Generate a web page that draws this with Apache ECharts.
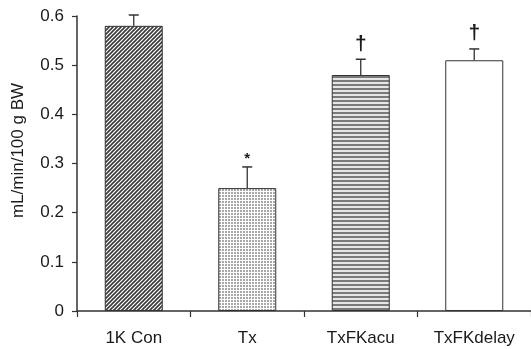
<!DOCTYPE html>
<html>
<head>
<meta charset="utf-8">
<script src="https://cdn.jsdelivr.net/npm/echarts@6/dist/echarts.min.js"></script>
<style>
html,body{margin:0;padding:0;background:#fff;}
#c{width:531px;height:349px;}
</style>
</head>
<body>
<div id="c"></div>
<script>
const categories = ['1K Con', 'Tx', 'TxFKacu', 'TxFKdelay'];
const means = [0.58, 0.25, 0.48, 0.51];
const errors = [0.022, 0.043, 0.032, 0.023];
const marks = ['', '*', '\u2020', '\u2020'];
const yMin = 0, yMax = 0.6, yStep = 0.1;
const yTitle = 'mL/min/100 g BW';

function makeTile(size, draw) {
  const c = document.createElement('canvas');
  c.width = size; c.height = size;
  const g = c.getContext('2d');
  g.fillStyle = '#fff';
  g.fillRect(0, 0, size, size);
  draw(g, size);
  return c;
}
const diag = makeTile(4, function (g, s) {
  g.strokeStyle = '#3a3a3a';
  g.lineWidth = 1.6;
  g.beginPath();
  g.moveTo(-1, s + 1); g.lineTo(s + 1, -1);
  g.moveTo(-1, 1); g.lineTo(1, -1);
  g.moveTo(s - 1, s + 1); g.lineTo(s + 1, s - 1);
  g.stroke();
});
const dots = makeTile(3, function (g) {
  g.fillStyle = '#a8a8a8';
  g.fillRect(0, 0, 2, 2);
});
const horiz = makeTile(4, function (g) {
  g.fillStyle = '#7a7a7a';
  g.fillRect(0, 0, 4, 2);
  g.fillStyle = '#e6e6e6';
  g.fillRect(0, 2, 4, 2);
});
const fills = [
  { image: diag, repeat: 'repeat' },
  { image: dots, repeat: 'repeat' },
  { image: horiz, repeat: 'repeat' },
  '#ffffff'
];

const font = 'Liberation Sans, Arial, sans-serif';
const chart = echarts.init(document.getElementById('c'), null, { renderer: 'canvas' });

chart.setOption({
  animation: false,
  backgroundColor: '#fff',
  grid: { left: 77, right: 0, top: 16, bottom: 38, containLabel: false, outerBoundsMode: 'none' },
  xAxis: {
    type: 'category',
    data: categories,
    axisLine: { lineStyle: { color: '#333', width: 1.5 } },
    axisTick: { show: true, length: 6, lineStyle: { color: '#333', width: 1.2 } },
    axisLabel: { color: '#1a1a1a', fontSize: 17, fontFamily: font, margin: 19, interval: 0 }
  },
  yAxis: {
    type: 'value',
    min: yMin, max: yMax, interval: yStep,
    name: yTitle,
    nameLocation: 'middle',
    nameGap: 50,
    nameTextStyle: { color: '#1a1a1a', fontSize: 17, fontFamily: font, padding: [0, 0, 0, 26] },
    axisLine: { show: true, lineStyle: { color: '#333', width: 1.5 } },
    axisTick: { show: true, length: 5, lineStyle: { color: '#333', width: 1.2 } },
    splitLine: { show: false },
    axisLabel: { color: '#1a1a1a', fontSize: 17, fontFamily: font, margin: 13 }
  },
  series: [
    {
      type: 'bar',
      barWidth: 58,
      data: means.map(function (v, i) {
        return { value: v, itemStyle: { color: fills[i] } };
      }),
      itemStyle: { borderColor: '#333', borderWidth: 1 }
    },
    {
      type: 'custom',
      data: means.map(function (v, i) { return [i, v, errors[i]]; }),
      renderItem: function (params, api) {
        const i = api.value(0);
        const base = api.coord([i, api.value(1)]);
        const top = api.coord([i, api.value(1) + api.value(2)]);
        const x = base[0];
        const children = [
          { type: 'line', shape: { x1: x, y1: base[1], x2: x, y2: top[1] }, style: { stroke: '#333', lineWidth: 1.3 } },
          { type: 'line', shape: { x1: x - 5, y1: top[1], x2: x + 5, y2: top[1] }, style: { stroke: '#333', lineWidth: 1.5 } }
        ];
        const m = marks[i];
        if (m) {
          const isStar = m === '*';
          children.push({
            type: 'text',
            style: {
              text: m, x: x, y: top[1] - (isStar ? 1 : 5),
              textAlign: 'center', textVerticalAlign: 'bottom',
              font: (isStar ? 'bold 15px ' : 'bold 21px ') + font,
              fill: '#1a1a1a'
            }
          });
        }
        return { type: 'group', children: children };
      },
      z: 5
    }
  ]
});
</script>
</body>
</html>
